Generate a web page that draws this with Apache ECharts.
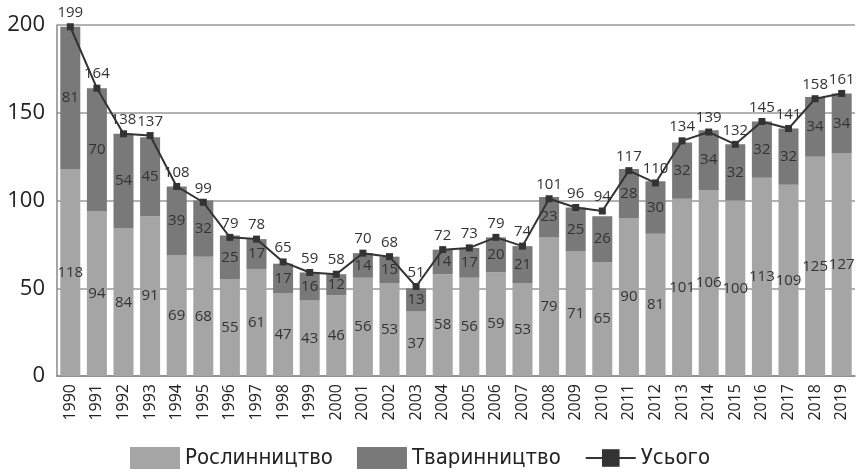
<!DOCTYPE html>
<html>
<head>
<meta charset="utf-8">
<script src="https://cdn.jsdelivr.net/npm/echarts@6/dist/echarts.min.js"></script>
<style>
html, body { margin: 0; padding: 0; background: #fff; }
#main { width: 858px; height: 475px; }
</style>
</head>
<body>
<div id="main"></div>
<script>
const years = ['1990','1991','1992','1993','1994','1995','1996','1997','1998','1999',
  '2000','2001','2002','2003','2004','2005','2006','2007','2008','2009',
  '2010','2011','2012','2013','2014','2015','2016','2017','2018','2019']

// Рослинництво
const crops = [118,94,84,91,69,68,55,61,47,43,46,56,53,37,58,56,59,53,79,71,65,90,81,101,106,100,113,109,125,127]
// Тваринництво
const livestock = [81,70,54,45,39,32,25,17,17,16,12,14,15,13,14,17,20,21,23,25,26,28,30,32,34,32,32,32,34,34]
// Усього
const total = [199,164,138,137,108,99,79,78,65,59,58,70,68,51,72,73,79,74,101,96,94,117,110,134,139,132,145,141,158,161]

const yTicks = [0, 50, 100, 150, 200]

const chart = echarts.init(document.getElementById('main'))

const font = '"Open Sans", sans-serif'

chart.setOption({
  animation: false,
  textStyle: { fontFamily: font },
  grid: { left: 57, right: 3, top: 25, bottom: 99 },
  legend: {
    bottom: 1,
    left: 125,
    itemWidth: 50,
    itemHeight: 22,
    itemGap: 24,
    textStyle: { fontSize: 22, color: '#222', fontFamily: '"DejaVu Sans Condensed", "Liberation Sans Narrow", sans-serif' },
    data: [
      { name: 'Рослинництво', icon: 'rect' },
      { name: 'Тваринництво', icon: 'rect' },
      { name: 'Усього' }
    ]
  },
  xAxis: {
    type: 'category',
    data: years,
    axisLine: { lineStyle: { color: '#888', width: 1.5 } },
    axisTick: { inside: true, length: 8, lineStyle: { color: '#555' } },
    axisLabel: { rotate: 90, fontSize: 16, color: '#222', margin: 8 }
  },
  yAxis: {
    type: 'value',
    min: yTicks[0],
    max: yTicks[yTicks.length - 1],
    interval: 50,
    axisLine: { show: true, lineStyle: { color: '#888', width: 1.5 } },
    axisTick: { show: false },
    axisLabel: { fontSize: 22, color: '#222', margin: 12 },
    splitLine: { lineStyle: { color: '#999', width: 1.5 } }
  },
  series: [
    {
      name: 'Рослинництво',
      type: 'bar',
      stack: 'a',
      barWidth: 20,
      data: crops,
      itemStyle: { color: '#a5a5a5' },
      label: { show: true, position: 'inside', fontSize: 15, color: '#333' }
    },
    {
      name: 'Тваринництво',
      type: 'bar',
      stack: 'a',
      barWidth: 20,
      data: livestock,
      itemStyle: { color: '#797979' },
      label: { show: true, position: 'inside', fontSize: 15, color: '#333' }
    },
    {
      name: 'Усього',
      type: 'line',
      data: total,
      symbol: 'rect',
      symbolSize: 7,
      itemStyle: { color: '#333' },
      lineStyle: { color: '#333', width: 2 },
      label: { show: true, position: 'top', distance: 3, fontSize: 15, color: '#333' },
      z: 5
    }
  ]
})
</script>
</body>
</html>
